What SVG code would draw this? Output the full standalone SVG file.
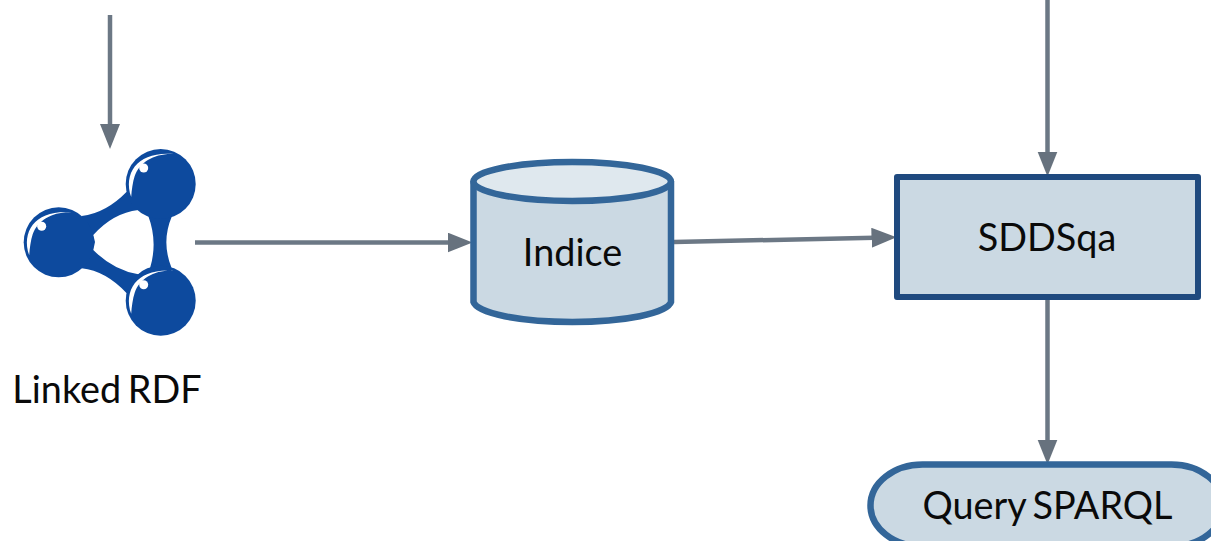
<svg xmlns="http://www.w3.org/2000/svg" width="1211" height="541" viewBox="0 0 1211 541">
<style>
text{font-family:"Lato","Liberation Sans",sans-serif;font-size:37.8px;word-spacing:-3px;fill:#0a0a0a;text-anchor:middle}
.edge{fill:none;stroke:#6c7885;stroke-width:4.5;marker-end:url(#arrow)}
.shape{fill:#cbd9e3;stroke:#336699;stroke-width:6.5}
.blob{fill:#0d4a9e}
.shine{fill:#fff}
</style>
<defs>
<marker id="arrow" markerUnits="userSpaceOnUse" markerWidth="26" markerHeight="22" refX="14" refY="10" orient="auto">
<path d="M0,0L25,10L0,20z" fill="#67727e"/>
</marker>
<g id="ball">
<circle r="35" class="blob"/>
<path class="shine" d="M-29.500,13C-38,-12 -22,-33 13,-30C-6,-31 -21,-22 -26,-8C-28,-2 -29,6 -29.500,13z"/>
<circle class="shine" cx="-17" cy="-16" r="4.500"/>
</g>
</defs>
<g id="connectors">
<path class="edge" d="M110,15V138"/>
<path class="edge" d="M195,242.500H461.500"/>
<path class="edge" d="M674,242L885.500,237.500"/>
<path class="edge" d="M1047.500,0V165.500"/>
<path class="edge" d="M1047.500,298V453.500"/>
</g>
<g id="linked-rdf">
<path class="blob" fill-rule="evenodd" d="M81.700,216Q106,213 126.700,191.700L171.700,216.700Q161,242 171.700,268.300L126.700,293.300Q106,271 81.700,268.300ZM93.300,235Q113,213 138.300,210L148.300,216Q158,242 150,268.300L138.300,274.300Q113,270 93.300,250L95,242Z"/>
<use href="#ball" x="160.700" y="184"/>
<use href="#ball" x="58.700" y="242.300"/>
<use href="#ball" x="160.700" y="300.700"/>
<text x="107" y="403">Linked RDF</text>
</g>
<g id="indice">
<path class="shape" d="M473.500,182V302A99,21.500 0 0 0 671,302V182A99,20 0 0 0 473.500,182Z"/>
<ellipse cx="572.200" cy="181.500" rx="98.700" ry="19.500" fill="#dfe8ee" stroke="#336699" stroke-width="6.500"/>
<text x="572.500" y="266">Indice</text>
</g>
<g id="sddsqa">
<rect x="897" y="177" width="301" height="120" fill="#cbd9e3" stroke="#1f4a7f" stroke-width="6" stroke-linejoin="round"/>
<text x="1047" y="251">SDDSqa</text>
</g>
<g id="query-sparql">
<rect class="shape" x="870.500" y="464.500" width="353" height="82" rx="52" ry="41"/>
<text x="1047.500" y="519">Query SPARQL</text>
</g>
</svg>
